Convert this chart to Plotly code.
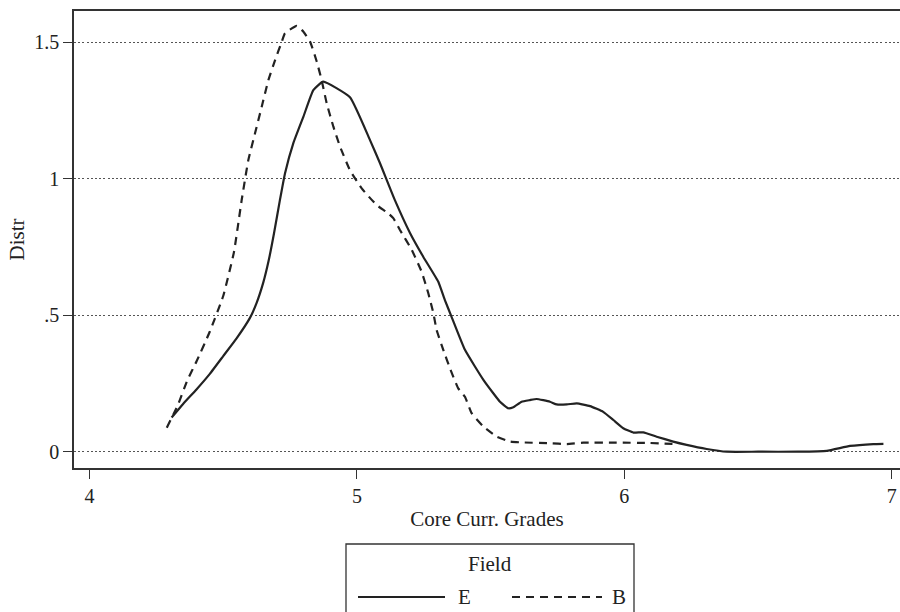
import plotly.graph_objects as go

# ---- data ----
e_x = [4.307, 4.35, 4.40, 4.45, 4.50, 4.55, 4.60, 4.625, 4.65, 4.67, 4.69, 4.712, 4.731, 4.762, 4.80, 4.837, 4.874,
       4.974, 5.049, 5.086, 5.142, 5.199, 5.248, 5.304, 5.329, 5.354, 5.404, 5.473, 5.510, 5.535,
       5.566, 5.585, 5.616, 5.647, 5.672, 5.722, 5.747, 5.785, 5.822, 5.872, 5.921, 5.959, 5.996,
       6.034, 6.071, 6.121, 6.183, 6.233, 6.308, 6.383, 6.50, 6.65, 6.757, 6.844, 6.931, 6.969]
e_y = [0.125, 0.175, 0.228, 0.285, 0.35, 0.415, 0.49, 0.545, 0.62, 0.70, 0.80, 0.921, 1.019, 1.129, 1.227, 1.324, 1.355,
       1.298, 1.141, 1.057, 0.921, 0.800, 0.714, 0.623, 0.555, 0.494, 0.373, 0.263, 0.214, 0.183,
       0.159, 0.163, 0.183, 0.189, 0.193, 0.183, 0.173, 0.173, 0.177, 0.167, 0.146, 0.116, 0.086,
       0.070, 0.071, 0.055, 0.037, 0.025, 0.010, 0.0, 0.0, 0.0, 0.003, 0.021, 0.028, 0.029]

b_x = [4.289, 4.33, 4.366, 4.40, 4.45, 4.50, 4.54, 4.569, 4.594, 4.619, 4.644, 4.669, 4.694, 4.719,
       4.731, 4.775, 4.80, 4.825, 4.850, 4.868, 4.887, 4.912, 4.937, 4.974, 5.018, 5.074, 5.117,
       5.136, 5.161, 5.205, 5.242, 5.267, 5.286, 5.298, 5.323, 5.35, 5.379, 5.404, 5.429, 5.473,
       5.523, 5.573, 5.616, 5.722, 5.785, 5.847, 5.971, 6.096, 6.196]
b_y = [0.088, 0.17, 0.262, 0.33, 0.44, 0.57, 0.73, 0.921, 1.068, 1.166, 1.263, 1.361, 1.434, 1.501,
       1.532, 1.559, 1.538, 1.501, 1.428, 1.361, 1.276, 1.190, 1.117, 1.031, 0.964, 0.903, 0.873,
       0.855, 0.812, 0.739, 0.659, 0.580, 0.507, 0.446, 0.373, 0.30, 0.232, 0.201, 0.141, 0.092,
       0.055, 0.037, 0.034, 0.031, 0.028, 0.033, 0.033, 0.032, 0.028]

y_ticks = [0, 0.5, 1, 1.5]
y_tick_labels = ["0", ".5", "1", "1.5"]
x_ticks = [4, 5, 6, 7]
series_names = ["E", "B"]

INK = "#222222"
FONT = "Liberation Serif, Times New Roman, serif"
TXT = dict(family=FONT, size=20, color=INK)
TXT_BIG = dict(family=FONT, size=21, color=INK)

fig = go.Figure()
fig.add_trace(go.Scatter(x=e_x, y=e_y, mode="lines", name=series_names[0],
                         line=dict(color=INK, width=2.2, shape="spline", smoothing=0.4),
                         showlegend=False))
fig.add_trace(go.Scatter(x=b_x, y=b_y, mode="lines", name=series_names[1],
                         line=dict(color=INK, width=2.2, dash="8px,6px", shape="spline", smoothing=0.4),
                         showlegend=False))

fig.update_layout(
    width=900, height=612,
    margin=dict(l=74, r=0, t=11, b=144),
    paper_bgcolor="white", plot_bgcolor="white",
    font=TXT,
    xaxis=dict(range=[3.942, 7.031], tickvals=x_ticks, ticktext=[str(v) for v in x_ticks],
               ticks="outside", ticklen=9, tickwidth=1.2, tickcolor="#333",
               showline=True, linecolor="#333", linewidth=1.5, mirror=True,
               showgrid=False, zeroline=False, automargin=False, tickfont=TXT,
               title=dict(text="Core Curr. Grades", standoff=6, font=TXT_BIG)),
    yaxis=dict(range=[-0.0597, 1.6137], tickvals=y_ticks, ticktext=y_tick_labels,
               ticks="outside", ticklen=9, tickwidth=1.2, tickcolor="#333",
               showline=True, linecolor="#333", linewidth=1.5,
               showgrid=True, gridcolor="#555", gridwidth=1.3, griddash="2px,2.2px",
               zeroline=False, tickangle=0, automargin=False, tickfont=TXT,
               title=dict(text="Distr", standoff=4, font=TXT_BIG)),
)

# ---- legend drawn as a framed key below the plot ----
def px_x(p):
    return (p - 74) / 826.0

def px_y(p):
    return (468 - p) / 457.0

fig.add_shape(type="rect", xref="paper", yref="paper",
              x0=px_x(346), x1=px_x(634), y0=px_y(544), y1=px_y(640),
              line=dict(color="#333", width=1.3), fillcolor="white", layer="above")
fig.add_shape(type="line", xref="paper", yref="paper",
              x0=px_x(358), x1=px_x(445), y0=px_y(597), y1=px_y(597),
              line=dict(color=INK, width=2.2))
fig.add_shape(type="line", xref="paper", yref="paper",
              x0=px_x(512), x1=px_x(602), y0=px_y(597), y1=px_y(597),
              line=dict(color=INK, width=2.2, dash="8px,6px"))
fig.add_annotation(xref="paper", yref="paper", x=px_x(490), y=px_y(564), font=TXT_BIG,
                   text="Field", showarrow=False, xanchor="center", yanchor="middle")
fig.add_annotation(xref="paper", yref="paper", x=px_x(456), y=px_y(597), font=TXT_BIG,
                   text=series_names[0], showarrow=False, xanchor="left", yanchor="middle")
fig.add_annotation(xref="paper", yref="paper", x=px_x(610), y=px_y(597), font=TXT_BIG,
                   text=series_names[1], showarrow=False, xanchor="left", yanchor="middle")

fig.write_html("out.html", config={"displayModeBar": False},
               post_script="document.body.style.margin='0';document.body.style.overflow='hidden';")
